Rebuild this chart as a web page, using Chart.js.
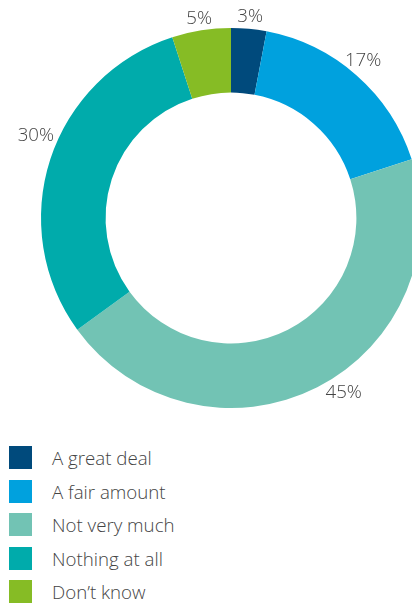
<!DOCTYPE html>
<html>
<head>
<meta charset="utf-8">
<script src="https://cdn.jsdelivr.net/npm/chart.js@4"></script>
<style>
  html, body { margin:0; padding:0; background:#fff; overflow:hidden; width:412px; height:603px; }
  #wrap { position:absolute; left:0; top:0; width:430px; height:420px; }
  #legend { position:absolute; left:9px; top:446px; font-family:"Open Sans", sans-serif; font-weight:300; font-size:18.7px; color:#444; }
  .row { display:flex; align-items:center; height:23px; margin-bottom:10.5px; }
  .sw { width:23px; height:23px; margin-right:20px; flex:none; }
</style>
</head>
<body>
<div id="wrap"><canvas id="c" width="430" height="420"></canvas></div>
<div id="legend"></div>
<script>
const categories = ["A great deal", "A fair amount", "Not very much", "Nothing at all", "Don\u2019t know"];
const values = [3, 17, 45, 30, 5];
const colors = ["#004A7C", "#00A1DE", "#72C3B4", "#00ABAB", "#86BC25"];
const valueLabels = ["3%", "17%", "45%", "30%", "5%"];

const legend = document.getElementById('legend');
categories.forEach((c, i) => {
  const r = document.createElement('div'); r.className = 'row';
  const s = document.createElement('div'); s.className = 'sw'; s.style.background = colors[i];
  const t = document.createElement('span'); t.textContent = c;
  r.appendChild(s); r.appendChild(t); legend.appendChild(r);
});

const outerLabels = {
  id: 'outerLabels',
  afterDatasetsDraw(chart, args, opts) {
    const ctx = chart.ctx;
    const meta = chart.getDatasetMeta(0);
    ctx.save();
    ctx.font = '300 18.7px "Open Sans", sans-serif';
    ctx.fillStyle = '#444';
    ctx.textAlign = 'center';
    ctx.textBaseline = 'middle';
    meta.data.forEach((arc, i) => {
      const p = arc.getProps(['x','y','startAngle','endAngle','outerRadius'], true);
      const a = (p.startAngle + p.endAngle) / 2 + (opts.shift[i] || 0) * Math.PI / 180;
      const R = p.outerRadius + opts.distance + (opts.extra[i] || 0);
      ctx.fillText(valueLabels[i], p.x + R * Math.cos(a), p.y + R * Math.sin(a) + 1);
    });
    ctx.restore();
  }
};

new Chart(document.getElementById('c'), {
  type: 'doughnut',
  data: { labels: categories, datasets: [{ data: values, backgroundColor: colors, borderWidth: 0 }] },
  options: {
    responsive: false,
    animation: false,
    cutout: '66%',
    layout: { padding: { left: 41, right: 9, top: 28, bottom: 12 } },
    plugins: {
      legend: { display: false },
      tooltip: { enabled: false },
      outerLabels: { distance: 13, shift: [0, -1.5, -6, 5, 0], extra: [0, 3, 4, 9, 0] }
    }
  },
  plugins: [outerLabels]
});
</script>
</body>
</html>
